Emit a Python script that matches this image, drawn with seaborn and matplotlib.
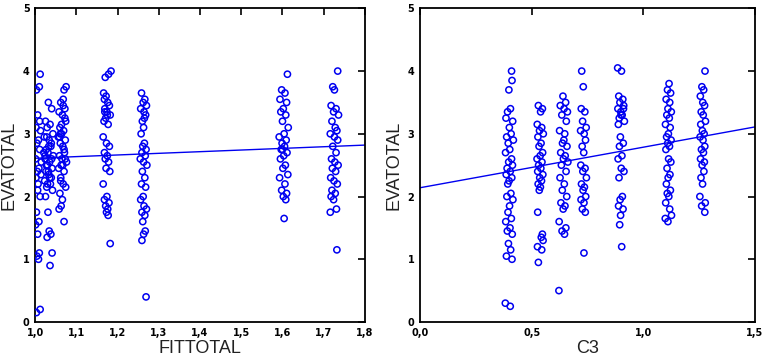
import pandas as pd
import matplotlib
matplotlib.use("Agg")
import matplotlib.pyplot as plt
import seaborn as sns

# ---- left panel: FITTOTAL vs EVATOTAL (clusters)
xa = [1.012, 1.003, 1.010, 1.006, 1.002, 1.013, 1.008, 1.004, 1.011, 1.001, 1.009, 1.005, 1.014, 1.002,
      1.007, 1.012, 1.003, 1.009, 1.001, 1.006, 1.010, 1.004, 1.008, 1.012, 1.003, 1.015, 1.006, 1.011]
ya = [3.95, 3.7, 3.75, 3.3, 3.1, 3.05, 2.9, 2.85, 2.75, 2.6, 2.45, 2.4, 2.35, 2.3,
      2.2, 2.0, 1.75, 1.6, 1.55, 1.4, 1.1, 1.05, 1.0, 0.2, 0.15, 2.55, 2.1, 3.2]
xb = [1.032, 1.040, 1.025, 1.036, 1.029, 1.043, 1.022, 1.034, 1.038, 1.027, 1.031, 1.044, 1.024, 1.035,
      1.030, 1.041, 1.026, 1.033, 1.039, 1.023, 1.037, 1.028, 1.042, 1.031, 1.034, 1.038, 1.029, 1.041,
      1.036, 1.025, 1.040, 1.021, 1.033, 1.027, 1.035, 1.030, 1.024, 1.039, 1.032, 1.028]
yb = [3.5, 3.4, 3.2, 3.15, 3.1, 3.0, 2.95, 2.9, 2.8, 2.75, 2.7, 2.65, 2.6, 2.55,
      2.5, 2.45, 2.4, 2.35, 2.3, 2.25, 2.2, 2.15, 2.1, 1.75, 1.45, 1.4, 1.35, 1.1,
      0.9, 2.0, 2.6, 2.7, 2.8, 2.5, 2.3, 2.2, 2.65, 2.85, 2.4, 2.95]
xc = [1.075, 1.070, 1.068, 1.062, 1.072, 1.058, 1.066, 1.074, 1.060, 1.069, 1.064, 1.056, 1.073, 1.061,
      1.067, 1.071, 1.059, 1.065, 1.076, 1.063, 1.057, 1.070, 1.062, 1.068, 1.074, 1.060, 1.066, 1.063,
      1.058, 1.070, 1.072, 1.061, 1.067, 1.064, 1.059, 1.073, 1.068, 1.062, 1.070]
yc = [3.75, 3.7, 3.55, 3.5, 3.4, 3.35, 3.3, 3.2, 3.1, 3.05, 3.0, 2.95, 2.9, 2.85,
      2.8, 2.7, 2.65, 2.6, 2.55, 2.5, 2.45, 2.4, 2.3, 2.2, 2.15, 2.05, 1.95, 1.85,
      1.8, 1.6, 3.25, 3.0, 2.5, 3.15, 2.95, 2.6, 3.45, 2.25, 2.75]
xd = [1.184, 1.178, 1.170, 1.166, 1.172, 1.168, 1.176, 1.180, 1.169, 1.174, 1.182, 1.171, 1.167, 1.177,
      1.165, 1.173, 1.180, 1.168, 1.175, 1.170, 1.178, 1.172, 1.181, 1.165, 1.174, 1.168, 1.179, 1.171,
      1.176, 1.173, 1.177, 1.182, 1.175, 1.169]
yd = [4.0, 3.95, 3.9, 3.65, 3.6, 3.55, 3.5, 3.45, 3.4, 3.35, 3.3, 3.25, 3.2, 3.15,
      2.95, 2.85, 2.8, 2.7, 2.65, 2.6, 2.55, 2.45, 2.4, 2.2, 2.0, 1.95, 1.9, 1.85,
      1.8, 1.75, 1.7, 1.25, 3.3, 3.35]
xe = [1.258, 1.266, 1.262, 1.270, 1.256, 1.264, 1.268, 1.260, 1.263, 1.257, 1.265, 1.261, 1.269, 1.259,
      1.267, 1.255, 1.263, 1.271, 1.260, 1.266, 1.258, 1.268, 1.262, 1.256, 1.264, 1.270, 1.259, 1.266,
      1.261, 1.267, 1.263, 1.259, 1.269, 1.265]
ye = [3.65, 3.55, 3.5, 3.45, 3.4, 3.35, 3.3, 3.2, 3.1, 3.0, 2.85, 2.8, 2.75, 2.7,
      2.65, 2.6, 2.55, 2.5, 2.4, 2.3, 2.2, 2.15, 2.0, 1.95, 1.85, 1.8, 1.75, 1.7,
      1.6, 1.45, 1.4, 1.3, 0.4, 3.25]
xf = [1.612, 1.598, 1.606, 1.594, 1.610, 1.602, 1.596, 1.608, 1.600, 1.614, 1.604, 1.592, 1.609, 1.599,
      1.605, 1.597, 1.611, 1.603, 1.595, 1.607, 1.601, 1.613, 1.593, 1.606, 1.598, 1.610, 1.602, 1.608,
      1.604, 1.600]
yf = [3.95, 3.7, 3.65, 3.55, 3.5, 3.4, 3.35, 3.3, 3.2, 3.1, 3.0, 2.95, 2.9, 2.85,
      2.8, 2.75, 2.7, 2.65, 2.6, 2.5, 2.45, 2.35, 2.3, 2.2, 2.1, 2.05, 2.0, 1.95,
      1.65, 2.75]
xg = [1.734, 1.722, 1.726, 1.718, 1.730, 1.724, 1.736, 1.720, 1.728, 1.732, 1.716, 1.726, 1.734, 1.722,
      1.730, 1.719, 1.727, 1.735, 1.721, 1.729, 1.717, 1.725, 1.733, 1.720, 1.728, 1.718, 1.724, 1.731,
      1.716, 1.732]
yg = [4.0, 3.75, 3.7, 3.45, 3.4, 3.35, 3.3, 3.2, 3.1, 3.05, 3.0, 2.95, 2.9, 2.8,
      2.7, 2.6, 2.55, 2.5, 2.45, 2.4, 2.3, 2.25, 2.2, 2.1, 2.05, 2.0, 1.95, 1.8,
      1.75, 1.15]

# ---- right panel: C3 vs EVATOTAL
x1 = [0.410, 0.412, 0.398, 0.405, 0.392, 0.385, 0.415, 0.400, 0.408, 0.388, 0.418, 0.395, 0.402, 0.383,
      0.410, 0.397, 0.414, 0.390, 0.404, 0.386, 0.411, 0.399, 0.393, 0.407, 0.389, 0.416, 0.401, 0.394,
      0.409, 0.384, 0.403, 0.391, 0.413, 0.396, 0.406, 0.387, 0.412, 0.382, 0.404]
y1 = [4.0, 3.85, 3.7, 3.4, 3.35, 3.25, 3.2, 3.1, 3.0, 2.95, 2.9, 2.85, 2.75, 2.7,
      2.6, 2.55, 2.5, 2.45, 2.4, 2.35, 2.3, 2.25, 2.2, 2.05, 2.0, 1.95, 1.85, 1.75,
      1.65, 1.6, 1.5, 1.45, 1.4, 1.25, 1.15, 1.05, 1.0, 0.3, 0.25]
x2 = [0.530, 0.548, 0.540, 0.525, 0.545, 0.535, 0.552, 0.528, 0.542, 0.533, 0.549, 0.538, 0.524, 0.546,
      0.531, 0.541, 0.527, 0.550, 0.536, 0.544, 0.529, 0.539, 0.534, 0.527, 0.548, 0.543, 0.551, 0.526,
      0.545, 0.530]
y2 = [3.45, 3.4, 3.35, 3.15, 3.1, 3.05, 3.0, 2.95, 2.85, 2.8, 2.7, 2.65, 2.6, 2.55,
      2.5, 2.45, 2.4, 2.35, 2.3, 2.25, 2.2, 2.15, 2.1, 1.75, 1.4, 1.35, 1.3, 1.2,
      1.15, 0.95]
x3 = [0.640, 0.652, 0.628, 0.645, 0.660, 0.635, 0.655, 0.625, 0.648, 0.638, 0.658, 0.630, 0.650, 0.642,
      0.662, 0.633, 0.654, 0.627, 0.646, 0.637, 0.657, 0.631, 0.649, 0.641, 0.623, 0.653, 0.636, 0.647,
      0.622, 0.644]
y3 = [3.6, 3.5, 3.45, 3.4, 3.35, 3.3, 3.2, 3.05, 3.0, 2.85, 2.8, 2.7, 2.65, 2.6,
      2.55, 2.5, 2.4, 2.3, 2.2, 2.1, 2.0, 1.9, 1.85, 1.8, 1.6, 1.5, 1.45, 1.4,
      0.5, 2.9]
x4 = [0.724, 0.731, 0.722, 0.738, 0.728, 0.744, 0.719, 0.735, 0.741, 0.726, 0.733, 0.720, 0.739, 0.729,
      0.745, 0.723, 0.736, 0.730, 0.742, 0.721, 0.734, 0.727, 0.740, 0.734]
y4 = [4.0, 3.75, 3.4, 3.35, 3.2, 3.1, 3.05, 3.0, 2.9, 2.8, 2.7, 2.5, 2.45, 2.4,
      2.3, 2.2, 2.15, 2.1, 2.0, 1.95, 1.9, 1.8, 1.75, 1.1]
x5 = [0.885, 0.902, 0.890, 0.908, 0.895, 0.912, 0.886, 0.899, 0.905, 0.892, 0.915, 0.888, 0.897, 0.910,
      0.893, 0.904, 0.887, 0.901, 0.913, 0.891, 0.906, 0.896, 0.889, 0.909, 0.898, 0.894, 0.903, 0.900,
      0.911]
y5 = [4.05, 4.0, 3.6, 3.55, 3.5, 3.45, 3.4, 3.35, 3.3, 3.25, 3.2, 3.15, 2.95, 2.85,
      2.8, 2.65, 2.6, 2.45, 2.4, 2.3, 2.0, 1.95, 1.85, 1.8, 1.7, 1.55, 1.2, 3.3,
      3.4]
x6 = [1.115, 1.108, 1.122, 1.102, 1.118, 1.110, 1.125, 1.105, 1.116, 1.099, 1.120, 1.112, 1.104, 1.124,
      1.109, 1.117, 1.101, 1.113, 1.123, 1.106, 1.119, 1.111, 1.103, 1.121, 1.107, 1.114, 1.100, 1.118,
      1.126, 1.098, 1.110]
y6 = [3.8, 3.7, 3.65, 3.55, 3.5, 3.4, 3.35, 3.3, 3.25, 3.15, 3.1, 3.0, 2.95, 2.9,
      2.85, 2.8, 2.75, 2.6, 2.55, 2.45, 2.35, 2.3, 2.2, 2.1, 2.05, 2.0, 1.9, 1.8,
      1.7, 1.65, 1.6]
x7 = [1.276, 1.262, 1.270, 1.255, 1.266, 1.274, 1.259, 1.268, 1.278, 1.257, 1.264, 1.272, 1.254, 1.267,
      1.275, 1.260, 1.269, 1.256, 1.273, 1.263, 1.271, 1.258, 1.265, 1.253, 1.277, 1.261, 1.275]
y7 = [4.0, 3.75, 3.7, 3.6, 3.5, 3.45, 3.35, 3.3, 3.2, 3.15, 3.05, 3.0, 2.95, 2.9,
      2.8, 2.75, 2.7, 2.6, 2.55, 2.5, 2.4, 2.3, 2.2, 2.0, 1.9, 1.85, 1.75]

# fitted lines (end points)
fit_left_x = [1.0, 1.8]
fit_left_y = [2.61, 2.82]
fit_right_x = [0.0, 1.5]
fit_right_y = [2.14, 3.11]

left_xticks = [1.0, 1.1, 1.2, 1.3, 1.4, 1.5, 1.6, 1.7, 1.8]
right_xticks = [0.0, 0.5, 1.0, 1.5]
yticks = [0, 1, 2, 3, 4, 5]

left = pd.DataFrame({"FITTOTAL": xa + xb + xc + xd + xe + xf + xg,
                     "EVATOTAL": ya + yb + yc + yd + ye + yf + yg})
right = pd.DataFrame({"C3": x1 + x2 + x3 + x4 + x5 + x6 + x7,
                      "EVATOTAL": y1 + y2 + y3 + y4 + y5 + y6 + y7})

sns.set_style("white")
plt.rcParams["font.family"] = ["Liberation Sans", "DejaVu Sans"]

BLUE = "#0000f0"
fig = plt.figure(figsize=(7.65, 3.63), dpi=100)
ax1 = fig.add_axes([0.046, 0.113, 0.431, 0.864])
ax2 = fig.add_axes([0.549, 0.113, 0.438, 0.864])

panels = [(ax1, left, "FITTOTAL", fit_left_x, fit_left_y, (1.0, 1.8), left_xticks),
          (ax2, right, "C3", fit_right_x, fit_right_y, (0.0, 1.5), right_xticks)]

for ax, df, xname, fx, fy, xlim, xt in panels:
    sns.scatterplot(data=df, x=xname, y="EVATOTAL", ax=ax, marker="o", s=20,
                    edgecolor=BLUE, linewidth=1.1, zorder=3)
    ax.collections[0].set_facecolor("none")
    sns.lineplot(x=fx, y=fy, ax=ax, color=BLUE, linewidth=1.0, zorder=2)
    ax.set_xlim(*xlim)
    ax.set_ylim(0, 5)
    ax.set_xticks(xt)
    ax.set_xticklabels([f"{v:.1f}".replace(".", ",") for v in xt])
    ax.set_yticks(yticks)
    ax.set_yticklabels([str(v) for v in yticks])
    ax.tick_params(direction="in", top=True, right=True, length=5, width=1.2,
                   labelsize=7, colors="black", pad=4)
    for lab in ax.get_xticklabels() + ax.get_yticklabels():
        lab.set_family("DejaVu Sans")
        lab.set_fontweight("bold")
    for sp in ax.spines.values():
        sp.set_linewidth(1.3)
        sp.set_color("black")
    ax.set_xlabel(xname, fontsize=13, labelpad=2, color="#222222")
    ax.set_ylabel("EVATOTAL", fontsize=13, labelpad=4, color="#222222")

fig.savefig("out.png", dpi=100)
